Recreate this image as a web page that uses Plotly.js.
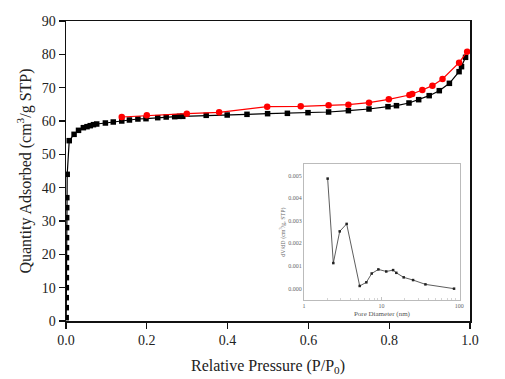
<!DOCTYPE html>
<html>
<head>
<meta charset="utf-8">
<script src="https://cdn.plot.ly/plotly-3.0.1.min.js"></script>
<style>html,body{margin:0;padding:0;background:#fff}#chart{width:505px;height:379px}</style>
</head>
<body>
<div id="chart"></div>
<script>
// Adsorption branch (black squares)
const adsP = [0.0005,0.0006,0.0007,0.0008,0.0009,0.001,0.0011,0.0012,0.0013,0.0014,0.0016,0.0018,0.002,0.003,
  0.008,0.02,0.031,0.043,0.052,0.06,0.068,0.076,0.0975,0.117,0.138,0.157,0.178,0.198,0.227,0.248,0.269,0.281,0.289,
  0.347,0.399,0.448,0.499,0.548,0.599,0.65,0.699,0.75,0.797,0.818,0.849,0.873,0.899,0.924,0.949,0.973,0.979,0.989];
const adsV = [1,4,7,10,13,16,19,22,25,28,31,34,37,44,
  54.1,56.0,57.2,58.0,58.3,58.6,58.9,59.1,59.4,59.7,60.0,60.3,60.6,60.7,61.0,61.2,61.3,61.4,61.4,
  61.7,61.8,62.0,62.2,62.3,62.5,62.7,63.1,63.6,64.3,64.6,65.4,66.4,67.6,69.1,71.3,74.8,76.3,79.1];
// Desorption branch (red circles)
const desP = [0.993,0.973,0.932,0.907,0.882,0.857,0.850,0.799,0.750,0.699,0.650,0.581,0.498,0.379,0.299,0.200,0.138];
const desV = [80.8,77.5,72.6,70.6,69.3,68.1,67.8,66.5,65.5,64.9,64.7,64.4,64.3,62.6,62.2,61.7,61.2];
// Inset: pore size distribution
const poreD = [2.02,2.39,2.89,3.55,5.23,6.37,7.47,9.1,11.5,14.1,15.5,19.3,25.5,36.8,86];
const poreDV = [0.00486,0.00113,0.00253,0.00286,0.00012,0.00028,0.00067,0.00085,0.00076,0.00082,0.00070,0.00050,0.00038,0.00019,0.00000];
const xTicks = [0,0.2,0.4,0.6,0.8,1.0];
const xTickText = ['0.0','0.2','0.4','0.6','0.8','1.0'];
const yTicks = [0,10,20,30,40,50,60,70,80,90];
const insetXTicks = [1,10,100];
const insetXText = ['1','10','100'];
const insetYTicks = [0,0.001,0.002,0.003,0.004,0.005];
const insetYText = ['0.000','0.001','0.002','0.003','0.004','0.005'];

const serif = 'Liberation Serif, Times New Roman, serif';
const traces = [
  {x: adsP, y: adsV, type:'scatter', mode:'lines+markers', xaxis:'x', yaxis:'y',
   line:{color:'#000', width:1.2}, marker:{symbol:'square', size:5.5, color:'#000'}},
  {x: desP, y: desV, type:'scatter', mode:'lines+markers', xaxis:'x', yaxis:'y',
   line:{color:'#ff0000', width:1.2}, marker:{symbol:'circle', size:6.5, color:'#ff0000'}},
  {x: poreD, y: poreDV, type:'scatter', mode:'lines+markers', xaxis:'x2', yaxis:'y2',
   line:{color:'#333', width:0.8}, marker:{symbol:'square', size:2.5, color:'#222'}}
];
const layout = {
  width:505, height:379,
  margin:{l:66, r:35, t:21, b:58},
  paper_bgcolor:'#fff', plot_bgcolor:'#fff',
  showlegend:false,
  font:{family:serif, color:'#111'},
  xaxis:{domain:[0,1], range:[0,1], tickvals:xTicks, ticktext:xTickText,
    ticks:'outside', ticklen:6, tickwidth:1.3, tickcolor:'#111',
    showline:true, linecolor:'#111', linewidth:1.5, mirror:true, showgrid:false, zeroline:false,
    tickfont:{family:serif, size:14, color:'#222'},
    title:{text:'Relative Pressure (P/P<sub>0</sub>)', font:{family:serif, size:16, color:'#222'}, standoff:12}},
  yaxis:{domain:[0,1], range:[0,90], tickvals:yTicks,
    ticks:'outside', ticklen:6, tickwidth:1.3, tickcolor:'#111',
    showline:true, linecolor:'#111', linewidth:1.5, mirror:true, showgrid:false, zeroline:false,
    tickfont:{family:serif, size:14, color:'#222'},
    title:{text:'Quantity Adsorbed (cm<sup>3</sup>/g STP)', font:{family:serif, size:16, color:'#222'}, standoff:6}},
  xaxis2:{domain:[0.589,0.975], anchor:'y2', type:'log', range:[0,2.01],
    tickvals:insetXTicks, ticktext:insetXText,
    ticks:'inside', ticklen:3, tickwidth:0.6, tickcolor:'#999',
    minor:{ticks:'inside', ticklen:2, tickcolor:'#aaa', tickwidth:0.5, tickvals:[2,3,4,5,6,7,8,9,20,30,40,50,60,70,80,90]},
    showline:true, linecolor:'#bbb', linewidth:1, mirror:true, showgrid:false, zeroline:false,
    tickfont:{family:serif, size:6, color:'#666'},
    title:{text:'Pore Diameter (nm)', font:{family:serif, size:7, color:'#555'}, standoff:2}},
  yaxis2:{domain:[0.07,0.523], anchor:'x2', range:[-0.0005,0.0055],
    tickvals:insetYTicks, ticktext:insetYText,
    ticks:'', showline:true, linecolor:'#bbb', linewidth:1, mirror:true, showgrid:false, zeroline:false,
    tickfont:{family:serif, size:6, color:'#666'},
    title:{text:'dV/dD (cm<sup>3</sup>/g, STP)', font:{family:serif, size:6, color:'#666'}, standoff:2}}
};
Plotly.newPlot('chart', traces, layout, {staticPlot:true, displayModeBar:false});
</script>
</body>
</html>
